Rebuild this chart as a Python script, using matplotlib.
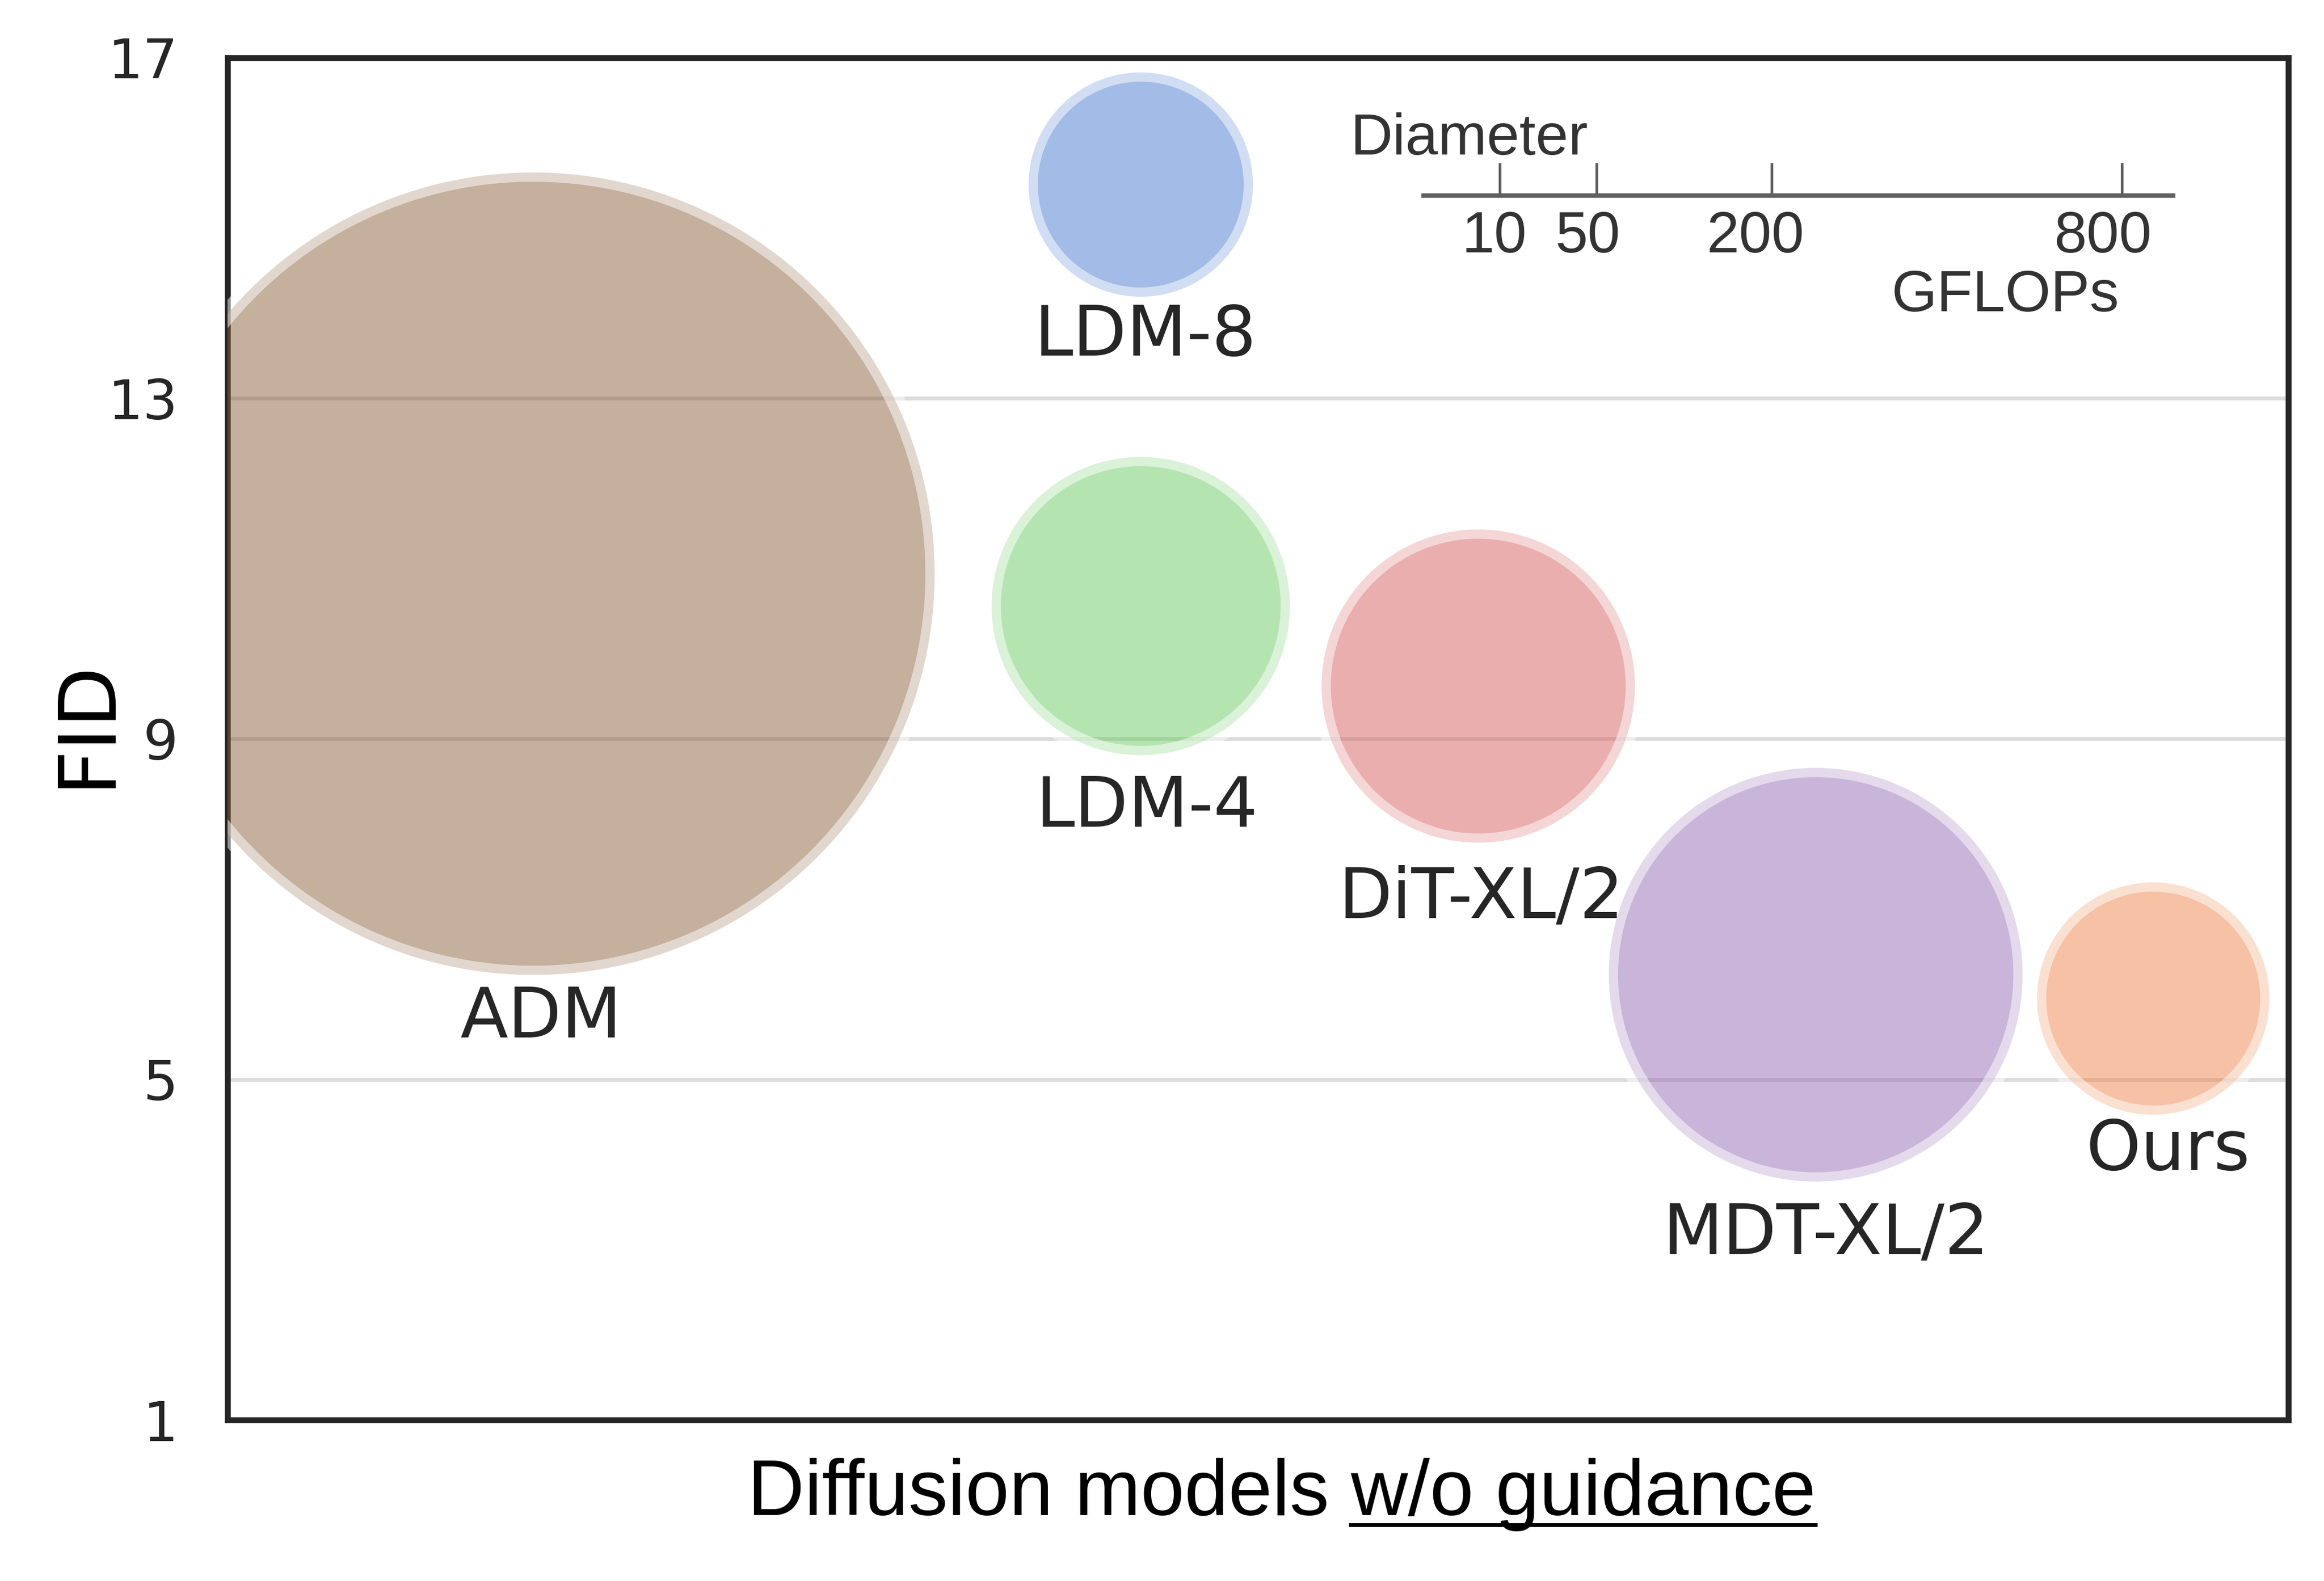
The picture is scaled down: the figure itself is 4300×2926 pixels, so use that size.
import matplotlib
matplotlib.use("Agg")
import matplotlib.pyplot as plt
import matplotlib.transforms as mtransforms
import numpy as np
import seaborn as sns

# data
models = ["ADM", "LDM-8", "LDM-4", "DiT-XL/2", "MDT-XL/2", "Ours"]
x_pos = [1.0, 2.8, 2.8, 3.8, 4.8, 5.8]
fid = [10.94, 15.51, 10.56, 9.62, 6.23, 5.95]
# bubble size read against the diameter key (GFLOPs, diameter ~ sqrt)
bubble_size = [1050, 82, 145, 160, 279, 88]
key_ticks = [10, 50, 200, 800]
y_ticks = [1, 5, 9, 13, 17]

muted = sns.color_palette("muted")
colors = [muted[5], muted[0], muted[2], muted[3], muted[4], muted[1]]

# label offsets from bubble centre (points)
label_offsets = [(3.6, -206), (2, -76), (2.6, -98), (1.3, -103), (4.6, -124), (6.6, -76)]

PT_PER_SQRT = 11.0  # key scale: points of diameter per sqrt(GFLOP)

fig = plt.figure(figsize=(4300 / 300, 2926 / 300), dpi=300)
ax = fig.add_axes([0.0979, 0.1018, 0.8867, 0.8617])

diam = PT_PER_SQRT * np.sqrt(bubble_size)
ax.scatter(x_pos, fid, s=diam ** 2, c=colors, alpha=0.5,
           edgecolors="white", linewidths=8.2, zorder=3)

for name, x, y, (dx, dy) in zip(models, x_pos, fid, label_offsets):
    ax.annotate(name, (x, y), xytext=(dx, dy), textcoords="offset points",
                ha="center", va="baseline", fontsize=31, color="#262626",
                family="DejaVu Sans", zorder=4)

ax.set_xlim(0.094, 6.2)
ax.set_ylim(1, 17)
ax.set_xticks([])
ax.set_yticks(y_ticks)
ax.tick_params(axis="y", length=0, pad=22, labelsize=24.5, labelcolor="#262626")
ax.grid(axis="y", color="#dcdcdc", linewidth=1.7)
ax.set_axisbelow(True)
for sp in ax.spines.values():
    sp.set_color("#262626")
    sp.set_linewidth(2.6)

ax.set_ylabel("FID", fontsize=35, color="black", ha="center", va="center")
ax.yaxis.set_label_coords(-0.0685, 0.5116)

# diameter key, drawn in points from an origin inside the axes
key_trans = mtransforms.Affine2D().scale(fig.dpi / 72) + \
    mtransforms.ScaledTranslation(0.5793, 0.8987, ax.transAxes)
key_font = dict(family="Liberation Sans", fontsize=26, color="#333333")
ax.plot([0, 334.8], [0, 0], color="#5f5f5f", lw=2.0, transform=key_trans,
        clip_on=False, solid_capstyle="butt", zorder=5)
key_shift = [-2.4, -3.8, -7.2, -8.6]
for g, sh in zip(key_ticks, key_shift):
    kx = PT_PER_SQRT * np.sqrt(g)
    ax.plot([kx, kx], [0, 14], color="#5f5f5f", lw=1.2, transform=key_trans,
            clip_on=False, zorder=5)
    ax.text(kx + sh, -25.2, str(g), ha="center", va="baseline",
            transform=key_trans, **key_font)
ax.text(-31.7, 18.2, "Diameter", ha="left", va="baseline", transform=key_trans, **key_font)
ax.text(259.4, -51.4, "GFLOPs", ha="center", va="baseline", transform=key_trans, **key_font)

# x label with the underlined part
xl_font = dict(family="Liberation Sans", fontsize=35, color="black")
full = fig.text(0.5514, 122 / 2926, "Diffusion models w/o guidance",
                ha="center", va="baseline", **xl_font)
fig.canvas.draw()
r = fig.canvas.get_renderer()
bb = full.get_window_extent(r)
probe = fig.text(0, 0, "w/o guidance", **xl_font)
w_part = probe.get_window_extent(r).width
probe.remove()
ul_y = (122 - 18) / 2926
fig.add_artist(plt.Line2D([(bb.x1 - w_part) / 4300, bb.x1 / 4300], [ul_y, ul_y],
                          transform=fig.transFigure, color="black", lw=1.7))

fig.savefig("out.png", dpi=300)
